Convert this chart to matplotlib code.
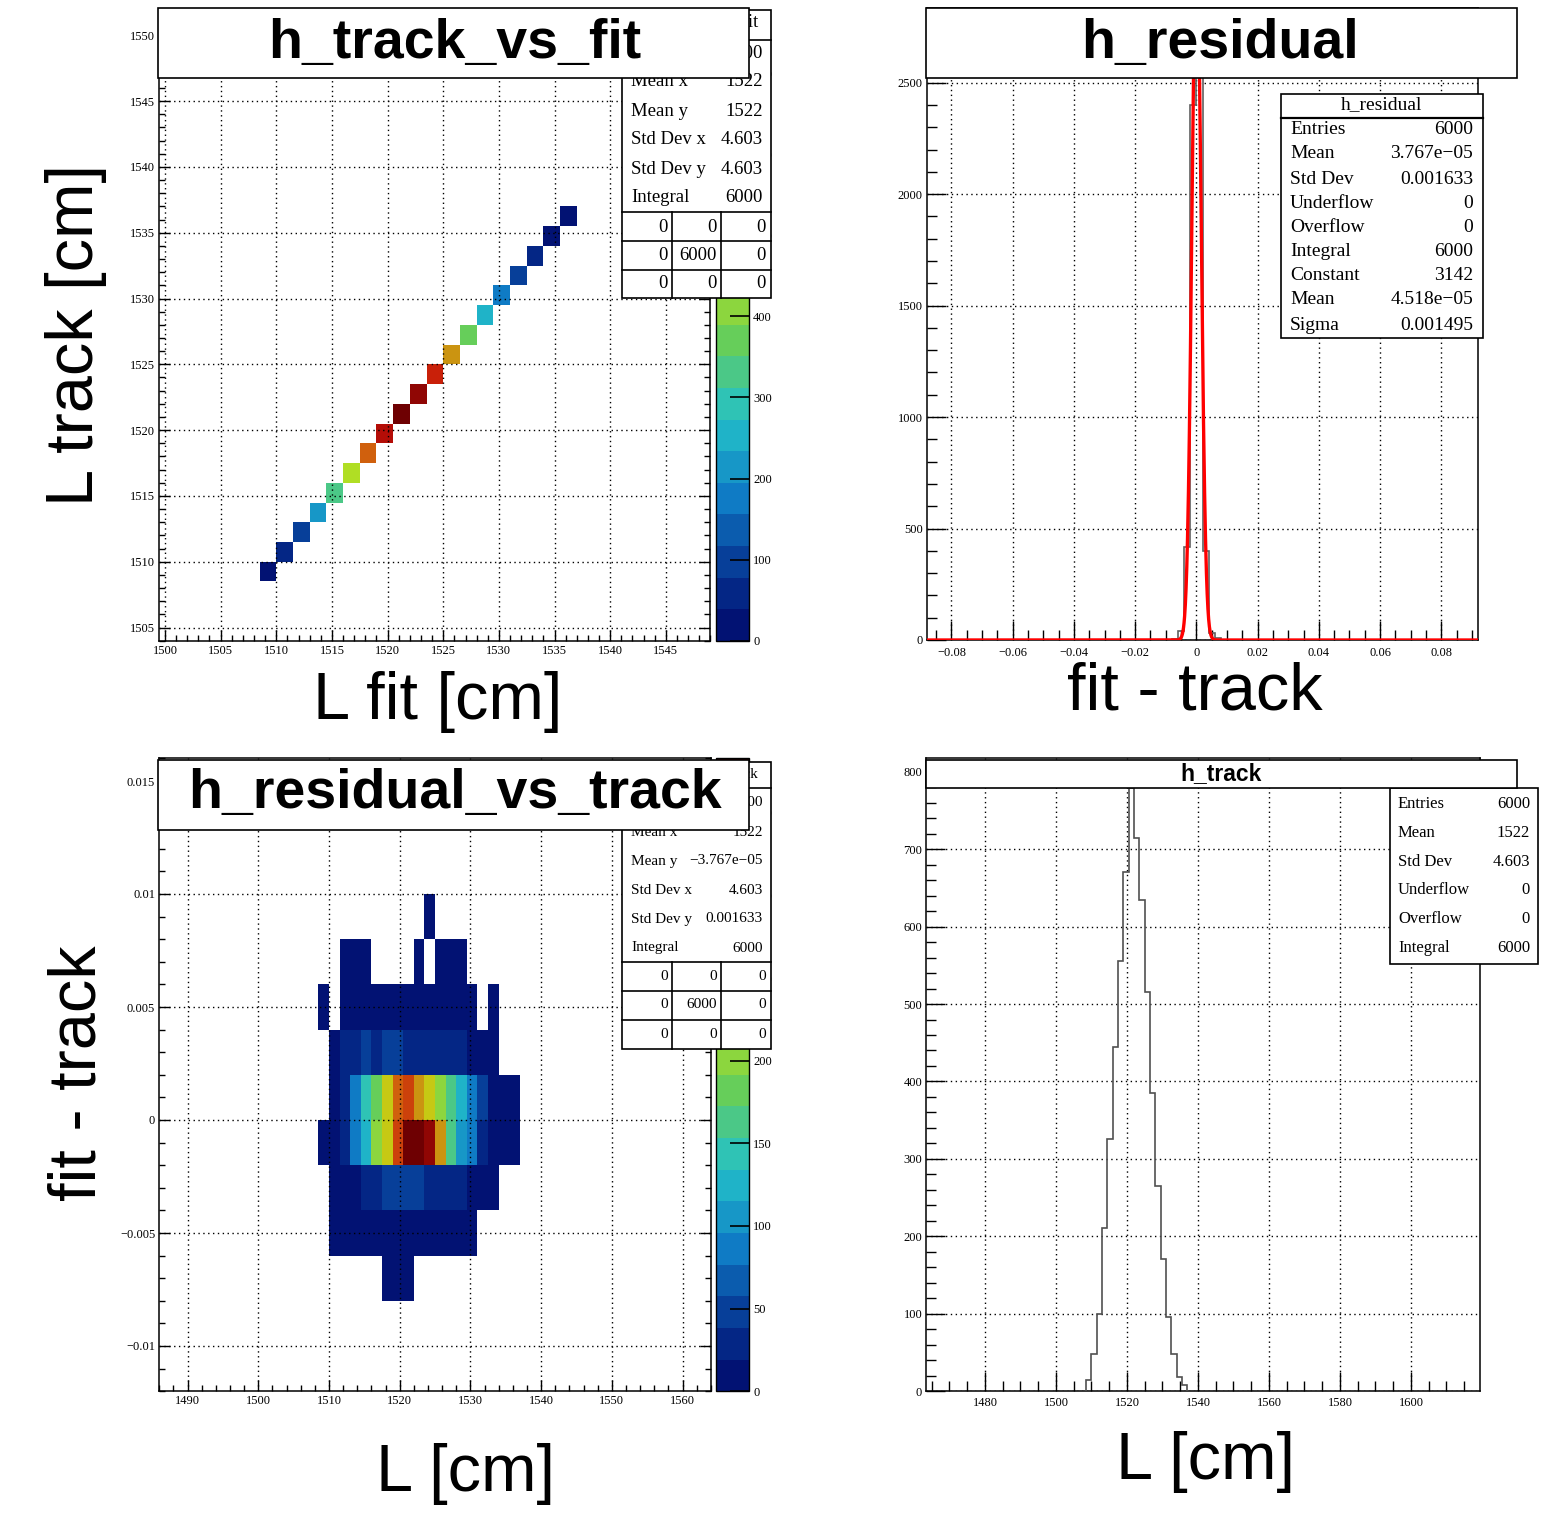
import numpy as np
import matplotlib
matplotlib.use("Agg")
import matplotlib.pyplot as plt
from matplotlib.colors import LinearSegmentedColormap, ListedColormap, BoundaryNorm
from matplotlib.ticker import MultipleLocator, FuncFormatter
from matplotlib.patches import Rectangle
from matplotlib.cm import ScalarMappable

plt.rcParams['font.family'] = ['Liberation Serif', 'DejaVu Serif']

# ------------------------------------------------------------------ data
track_bin_edges = [1508.5, 1510.0, 1511.5, 1513.0, 1514.5, 1516.0, 1517.5, 1519.0,
                   1520.5, 1522.0, 1523.5, 1525.0, 1526.5, 1528.0, 1529.5, 1531.0,
                   1532.5, 1534.0, 1535.5, 1537.0]
track_counts = [14, 48, 100, 210, 325, 445, 555, 670, 779, 715, 635, 515, 385, 265,
                170, 95, 48, 18, 8]

residual_bin_edges = [-0.008, -0.006, -0.004, -0.002, 0.0, 0.002, 0.004, 0.006, 0.008, 0.010]
residual_counts = [3, 40, 415, 2400, 2700, 400, 32, 8, 2]

fit_constant = 3142
fit_mean = 4.518e-05
fit_sigma = 0.001495

# residual vs track 2D counts: rows = residual bins (bottom -> top), cols = track bins
res_row_m008 = [0, 0, 0, 0, 0, 0, 2, 3, 2, 0, 0, 0, 0, 0, 0, 0, 0, 0, 0]
res_row_m006 = [0, 1, 2, 3, 4, 5, 6, 7, 8, 8, 7, 6, 5, 3, 2, 0, 0, 0, 0]
res_row_m004 = [0, 4, 8, 12, 28, 32, 48, 52, 55, 50, 35, 30, 25, 22, 12, 8, 4, 0, 0]
res_row_m002 = [5, 12, 30, 90, 130, 205, 245, 305, 383, 380, 360, 265, 165, 105, 85, 30, 12, 6, 3]
res_row_p000 = [0, 10, 30, 90, 145, 185, 245, 285, 305, 265, 245, 205, 165, 130, 85, 50, 15, 6, 3]
res_row_p002 = [0, 6, 25, 25, 50, 28, 52, 55, 35, 35, 33, 30, 28, 25, 12, 8, 4, 0, 0]
res_row_p004 = [2, 0, 2, 3, 4, 5, 6, 7, 8, 7, 6, 5, 4, 3, 2, 0, 1, 0, 0]
res_row_p006 = [0, 0, 1, 1, 1, 0, 0, 0, 0, 1, 0, 1, 1, 1, 0, 0, 0, 0, 0]
res_row_p008 = [0, 0, 0, 0, 0, 0, 0, 0, 0, 0, 1, 0, 0, 0, 0, 0, 0, 0, 0]

# stats boxes
tl_labels = ["Entries", "Mean x", "Mean y", "Std Dev x", "Std Dev y", "Integral"]
tl_values = ["6000", "1522", "1522", "4.603", "4.603", "6000"]
bl_labels = ["Entries", "Mean x", "Mean y", "Std Dev x", "Std Dev y", "Integral"]
bl_values = ["6000", "1522", "\u22123.767e\u221205", "4.603", "0.001633", "6000"]
tr_labels = ["Entries", "Mean", "Std Dev", "Underflow", "Overflow", "Integral",
             "Constant", "Mean", "Sigma"]
tr_values = ["6000", "3.767e\u221205", "0.001633", "0", "0", "6000", "3142",
             "4.518e\u221205", "0.001495"]
br_labels = ["Entries", "Mean", "Std Dev", "Underflow", "Overflow", "Integral"]
br_values = ["6000", "1522", "4.603", "0", "0", "6000"]
flow_table = [["0", "0", "0"], ["0", "6000", "0"], ["0", "0", "0"]]

# ------------------------------------------------------------------ palette (ROOT kRainBow, 20 contours)
stops = [0, 0.125, 0.25, 0.375, 0.5, 0.625, 0.75, 0.875, 1.0]
rgb = [(0, 0, 99), (5, 48, 142), (15, 124, 198), (35, 192, 201), (102, 206, 90),
       (196, 226, 22), (208, 97, 13), (199, 16, 8), (110, 0, 2)]
base = LinearSegmentedColormap.from_list(
    "rainbow_root", [(s, tuple(c / 255 for c in col)) for s, col in zip(stops, rgb)], N=255)
ncont = 20
level_colors = [base(min(254, int((i + 0.99) * 255 / ncont))) for i in range(ncont)]
cmap20 = ListedColormap(level_colors)

W, H = 1542, 1513
fig = plt.figure(figsize=(W / 100, H / 100), dpi=100)
fig.patch.set_facecolor("white")


def add_ax(x1, y1, x2, y2):
    return fig.add_axes([x1 / W, 1 - y2 / H, (x2 - x1) / W, (y2 - y1) / H])


def fmt(v, pos=None):
    if abs(v) < 1e-12:
        return "0"
    return ("%g" % v).replace("-", "\u2212")


GRID = dict(color="black", linestyle=(0, (1, 2.5)), linewidth=1.0)


def style_axis(ax, xmaj, xmin, ymaj, ymin, majlen, minlen, right=False, xpad=3, ypad=3):
    ax.xaxis.set_major_locator(MultipleLocator(xmaj))
    ax.xaxis.set_minor_locator(MultipleLocator(xmin))
    ax.yaxis.set_major_locator(MultipleLocator(ymaj))
    ax.yaxis.set_minor_locator(MultipleLocator(ymin))
    ax.xaxis.set_major_formatter(FuncFormatter(fmt))
    ax.yaxis.set_major_formatter(FuncFormatter(fmt))
    ax.tick_params(which="both", direction="in", top=False, right=right, width=1)
    ax.tick_params(which="major", length=majlen)
    ax.tick_params(which="minor", length=minlen)
    ax.tick_params(axis="x", labelsize=9, pad=xpad)
    ax.tick_params(axis="y", labelsize=9, pad=ypad)
    ax.grid(True, which="major", **GRID)
    ax.set_axisbelow(False)
    for s in ax.spines.values():
        s.set_linewidth(1.1)


def colorbar(cax, norm, ticks):
    cb = fig.colorbar(ScalarMappable(norm=norm, cmap=cmap20), cax=cax, ticks=ticks)
    cb.outline.set_linewidth(1.0)
    cax.yaxis.set_major_formatter(FuncFormatter(fmt))
    cax.tick_params(axis="y", direction="in", length=14, width=1.2, right=True,
                    left=False, labelright=True, labelleft=False, labelsize=9, pad=3)
    cax.minorticks_off()
    return cb


# ------------------------------------------------------------------ top-left: h_track_vs_fit
ax1 = add_ax(159.4, 9, 710.4, 640.7)
n = len(track_counts)
diag = np.zeros((n, n))
for k in range(n):
    diag[k, k] = track_counts[k]
zmax1 = max(track_counts) * 1.0001
norm1 = BoundaryNorm(np.linspace(0, zmax1, ncont + 1), ncont)
ax1.pcolormesh(track_bin_edges, track_bin_edges, np.ma.masked_equal(diag, 0),
               cmap=cmap20, norm=norm1, zorder=1)
ax1.set_xlim(1499.5, 1549.0)
ax1.set_ylim(1504.0, 1552.0)
style_axis(ax1, 5, 1, 5, 1, 8, 4, right=True)
cax1 = add_ax(716, 9, 749, 640.7)
colorbar(cax1, norm1, [0, 100, 200, 300, 400, 500, 600, 700])

# ------------------------------------------------------------------ top-right: h_residual
ax2 = add_ax(927, 8, 1478, 640)
ax2.stairs(residual_counts, residual_bin_edges, color="#606060", linewidth=1.2, zorder=3)
xf = np.linspace(-0.088, 0.092, 3000)
ax2.plot(xf, fit_constant * np.exp(-0.5 * ((xf - fit_mean) / fit_sigma) ** 2),
         color="#ff0000", linewidth=2.4, zorder=4)
ax2.set_xlim(-0.088, 0.092)
ax2.set_ylim(0, max(residual_counts) * 1.05)
style_axis(ax2, 0.02, 0.005, 500, 100, 14, 7, xpad=5)

# ------------------------------------------------------------------ bottom-left: h_residual_vs_track
ax3 = add_ax(159.3, 758.4, 710.8, 1391.2)
res2d = np.array([res_row_m008, res_row_m006, res_row_m004, res_row_m002, res_row_p000,
                  res_row_p002, res_row_p004, res_row_p006, res_row_p008], dtype=float)
zmax3 = res2d.max() * 1.0001
norm3 = BoundaryNorm(np.linspace(0, zmax3, ncont + 1), ncont)
ax3.pcolormesh(track_bin_edges, residual_bin_edges, np.ma.masked_equal(res2d, 0),
               cmap=cmap20, norm=norm3, zorder=1)
ax3.set_xlim(1486.0, 1564.0)
ax3.set_ylim(-0.012, 0.016)
style_axis(ax3, 10, 2, 0.005, 0.001, 8, 4, right=True)
cax3 = add_ax(716, 758.4, 749, 1391.2)
colorbar(cax3, norm3, [0, 50, 100, 150, 200, 250, 300, 350])

# ------------------------------------------------------------------ bottom-right: h_track
ax4 = add_ax(926.4, 758, 1480.2, 1391)
ax4.stairs(track_counts, track_bin_edges, color="#505050", linewidth=1.2, zorder=3)
ax4.set_xlim(1463.5, 1619.5)
ax4.set_ylim(0, max(track_counts) * 1.05)
style_axis(ax4, 20, 5, 100, 20, 14, 7, xpad=4)

# ------------------------------------------------------------------ overlay (boxes, titles, labels)
ov = fig.add_axes([0, 0, 1, 1], zorder=20)
ov.set_xlim(0, W)
ov.set_ylim(H, 0)
ov.axis("off")

Z_STAT, Z_TITLE = 2, 10


def box(x1, y1, x2, y2, z, lw=1.2):
    ov.add_patch(Rectangle((x1, y1), x2 - x1, y2 - y1, facecolor="white",
                           edgecolor="black", linewidth=lw, zorder=z))


def hline(x1, x2, y, z, lw=1.2):
    ov.plot([x1, x2], [y, y], color="black", linewidth=lw, zorder=z)


def vline(x, y1, y2, z, lw=1.2):
    ov.plot([x, x], [y1, y2], color="black", linewidth=lw, zorder=z)


def stext(x, y, s, fs, ha):
    ov.text(x, y, s, fontsize=fs, ha=ha, va="center", family="Liberation Serif",
            zorder=Z_STAT + 1)


def stats(labels, values, ys, lx, rx, fs):
    for lab, val, y in zip(labels, values, ys):
        stext(lx, y, lab, fs, "left")
        stext(rx, y, val, fs, "right")


def table(top, rows_y, line_ys, bottom, xl, xr, cols, rx, fs):
    for y in line_ys:
        hline(xl, xr, y, Z_STAT + 1)
    for x in cols:
        vline(x, top, bottom, Z_STAT + 1)
    for r, y in zip(flow_table, rows_y):
        for v, x in zip(r, rx):
            stext(x, y, v, fs, "right")


# TL stats
box(622, 10, 771, 298, Z_STAT)
stext(705, 23, "h_track_vs_fit", 13.5, "center")
hline(622, 771, 40, Z_STAT + 1)
stats(tl_labels, tl_values, [53, 82, 111, 140, 169, 197], 631, 763, 13.5)
table(212, [227, 256, 284], [212, 241, 270], 298, 622, 771, [672, 721],
      [668, 717, 766], 13.5)

# BL stats
box(622, 762, 771, 1049, Z_STAT)
stext(697, 774, "h_residual_vs_track", 11, "center")
hline(622, 771, 788, Z_STAT + 1)
stats(bl_labels, bl_values, [803, 832, 861, 890, 919, 948], 631, 763, 11)
table(962, [976, 1005, 1034], [962, 991, 1020], 1049, 622, 771, [672, 721],
      [668, 717, 766], 11)

# TR stats
box(1281, 94, 1483, 338, Z_STAT)
stext(1382, 105, "h_residual", 14, "center")
hline(1281, 1483, 118, Z_STAT + 1, lw=1.6)
stats(tr_labels, tr_values, [130, 154, 179, 203, 227, 251, 276, 300, 325], 1290, 1473, 14)

# BR stats
box(1390, 788, 1538, 964, Z_STAT)
stats(br_labels, br_values, [804, 833, 862, 890, 919, 948], 1398, 1530, 12)

# title boxes
TFONT = dict(family="Liberation Sans", fontweight="bold", ha="center", va="center",
             zorder=Z_TITLE + 1)
box(158, 8, 749, 78, Z_TITLE)
ov.text(455, 44, "h_track_vs_fit", fontsize=40, **TFONT)
box(926, 8, 1517, 78, Z_TITLE)
ov.text(1220, 44, "h_residual", fontsize=40, **TFONT)
box(158, 760, 749, 830, Z_TITLE)
ov.text(455, 794, "h_residual_vs_track", fontsize=40, **TFONT)
box(926, 760, 1517, 788, Z_TITLE)
ov.text(1221, 774, "h_track", fontsize=16.5, **TFONT)

# axis labels
LFONT = dict(family="Liberation Sans", fontsize=48, ha="center", va="center",
             zorder=Z_TITLE + 1)
ov.text(438, 702, "L fit [cm]", **LFONT)
ov.text(76, 335, "L track [cm]", rotation=90, **LFONT)
ov.text(1195, 692, "fit - track", **LFONT)
ov.text(79, 1073, "fit - track", rotation=90, **LFONT)
ov.text(466, 1474, "L [cm]", **LFONT)
ov.text(1205, 1462, "L [cm]", **LFONT)

fig.savefig("out.png", dpi=100, facecolor="white")
